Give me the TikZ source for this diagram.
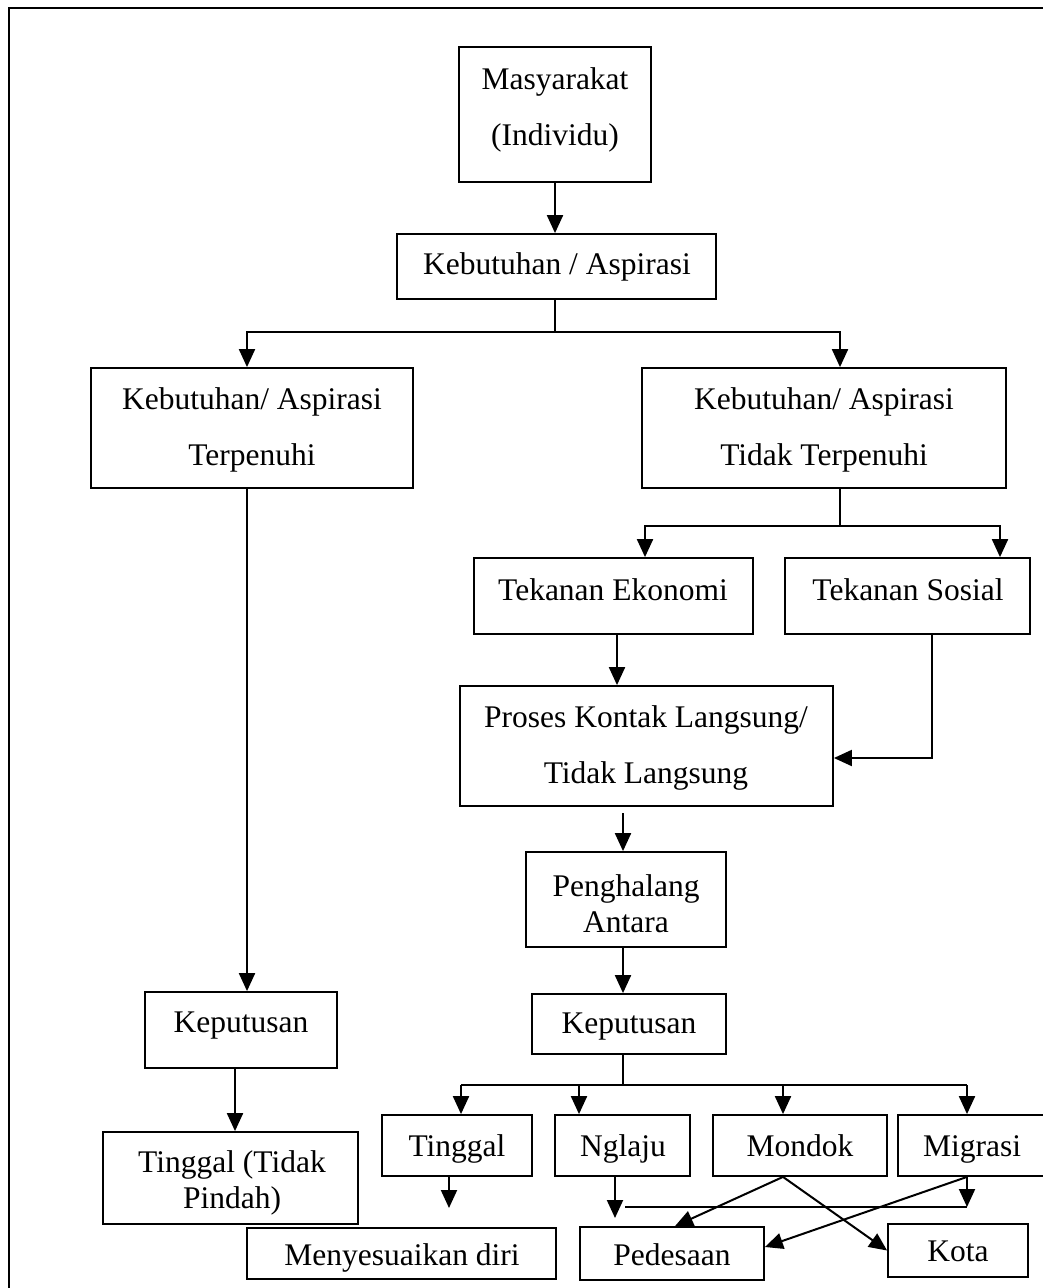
\documentclass[tikz,border=0pt]{standalone}
\usepackage{fontspec}
\setmainfont{Liberation Serif}
\usetikzlibrary{arrows.meta,fit}
\newcommand\bxx[5]{\node[box,fit={(#2,#3) (#4,#5)}] (#1) {};}
\begin{document}
\begin{tikzpicture}[x=1pt,y=-1pt,
  box/.style={draw,line width=1.8pt,inner sep=0pt},
  txt/.style={inner sep=0pt,align=center,font=\fontsize{31.5}{36}\selectfont},
  one/.style={text height=22pt,text depth=7pt},
  dbl/.style={font=\fontsize{31.5}{56}\selectfont},
  ln/.style={line width=2pt},
  arr/.style={line width=2pt,-{Triangle[length=18pt,width=16pt]}},
  frame/.style={line width=2.8pt}]
\useasboundingbox (0,0) rectangle (1043,1288);
\clip (0,0) rectangle (1043,1288);
\draw[frame] (9,8) rectangle (1080,1320);

% boxes
\bxx{mas}{459}{47}{651}{182}
\bxx{keb}{397}{234}{716}{299}
\bxx{ter}{91}{368}{413}{488}
\bxx{tdk}{642}{368}{1006}{488}
\bxx{eko}{474}{558}{753}{634}
\bxx{sos}{785}{558}{1030}{634}
\bxx{pro}{460}{686}{833}{806}
\bxx{pen}{526}{852}{726}{947}
\bxx{kepR}{532}{994}{726}{1054}
\bxx{kepL}{145}{992}{337}{1068}
\bxx{tp}{103}{1132}{358}{1224}
\bxx{tin}{382}{1115}{532}{1176}
\bxx{ngl}{555}{1115}{690}{1176}
\bxx{mon}{713}{1115}{887}{1176}
\bxx{mig}{898}{1115}{1070}{1176}
\bxx{men}{247}{1228}{556}{1279}
\bxx{ped}{580}{1227}{764}{1280}
\bxx{kota}{888}{1224}{1028}{1277}

% texts
\node[txt,dbl] (tmas) at (555,110) {Masyarakat\\(Individu)};
\node[txt,one] (tkeb) at (557,267) {Kebutuhan / Aspirasi};
\node[txt,dbl] (tter) at (252,430) {Kebutuhan/ Aspirasi\\Terpenuhi};
\node[txt,dbl] (ttdk) at (824,430) {Kebutuhan/ Aspirasi\\Tidak Terpenuhi};
\node[txt,one] (teko) at (613,593) {Tekanan Ekonomi};
\node[txt,one] (tsos) at (908,593) {Tekanan Sosial};
\node[txt,dbl] (tpro) at (646,747.5) {Proses Kontak Langsung/\\Tidak Langsung};
\node[txt] (tpen) at (626,903.5) {Penghalang\\Antara};
\node[txt,one] (tkepR) at (629,1026) {Keputusan};
\node[txt,one] (tkepL) at (241,1025) {Keputusan};
\node[txt] (ttp) at (232,1183) {Tinggal (Tidak\\Pindah)};
\node[txt,one] (ttin) at (457,1149) {Tinggal};
\node[txt,one] (tngl) at (623,1149) {Nglaju};
\node[txt,one] (tmon) at (800,1149) {Mondok};
\node[txt,one] (tmig) at (972,1149) {Migrasi};
\node[txt,one] (tmen) at (402,1258) {Menyesuaikan diri};
\node[txt,one] (tped) at (672,1258) {Pedesaan};
\node[txt,one] (tkota) at (958,1254) {Kota};

% helper x positions
\coordinate (x555) at (555,0);
\coordinate (x247) at (247,0);
\coordinate (x840) at (840,0);
\coordinate (x235) at (235,0);
\coordinate (x645) at (645,0);
\coordinate (x1000) at (1000,0);
\coordinate (x617) at (617,0);
\coordinate (x932) at (932,0);
\coordinate (x623) at (623,0);
\coordinate (x461) at (461,0);
\coordinate (x579) at (579,0);
\coordinate (x783) at (783,0);
\coordinate (x967) at (967,0);
\coordinate (x675) at (675,0);
\coordinate (y758) at (0,758);
\coordinate (y1247) at (0,1247);

% connectors
\draw[arr] (x555 |- mas.south) -- (x555 |- keb.north);
\coordinate (j1) at (555,332);
\draw[ln] (x555 |- keb.south) -- (j1);
\draw[arr] (j1) -| (x247 |- ter.north);
\draw[arr] (j1) -| (x840 |- tdk.north);
\draw[arr] (x247 |- ter.south) -- (x247 |- kepL.north);
\draw[arr] (x235 |- kepL.south) -- (x235 |- tp.north);

\coordinate (j2) at (840,526);
\draw[ln] (x840 |- tdk.south) -- (j2);
\draw[arr] (j2) -| (x645 |- eko.north);
\draw[arr] (j2) -| (x1000 |- sos.north);
\draw[arr] (x617 |- eko.south) -- (x617 |- pro.north);
\draw[arr] (x932 |- sos.south) |- (pro.east |- y758);

\coordinate (p8) at (623,813);
\draw[arr] (p8) -- (x623 |- pen.north);
\draw[arr] (x623 |- pen.south) -- (x623 |- kepR.north);

\coordinate (j3) at (623,1085);
\draw[ln] (x623 |- kepR.south) -- (j3);
\draw[ln] (x461 |- j3) -- (x967 |- j3);
\draw[arr] (x461 |- j3) -- (x461 |- tin.north);
\draw[arr] (x579 |- j3) -- (x579 |- ngl.north);
\draw[arr] (x783 |- j3) -- (x783 |- mon.north);
\draw[arr] (x967 |- j3) -- (x967 |- mig.north);

\coordinate (e1) at (449,1208);
\draw[arr] (e1 |- tin.south) -- (e1);
\coordinate (e2) at (615,1218);
\draw[arr] (e2 |- ngl.south) -- (e2);
\coordinate (h1) at (625,1207);
\draw[ln] (h1) -- (x967 |- h1);
\draw[arr] (x967 |- mig.south) -- (x967 |- h1);

\draw[arr] (x783 |- mon.south) -- (x675 |- ped.north);
\draw[arr] (x783 |- mon.south) -- (kota.west);
\draw[arr] (x967 |- mig.south) -- (ped.east |- y1247);
\end{tikzpicture}
\end{document}
